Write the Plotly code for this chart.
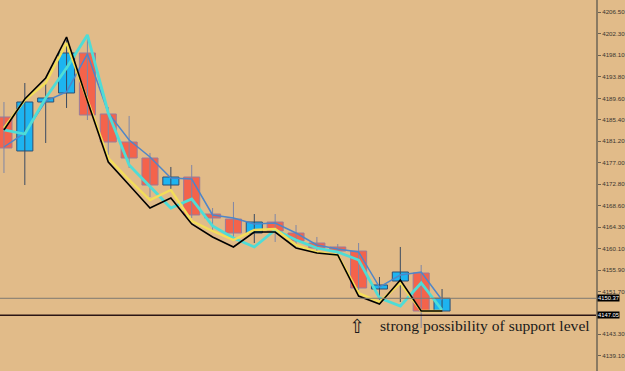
import plotly.graph_objects as go

# ---- data ----
idx = list(range(22))
opens  = [4185.95, 4179.28, 4188.89, 4190.66, 4198.51, 4186.54, 4181.04, 4177.90, 4172.60, 4174.17, 4166.91,
          4165.93, 4163.18, 4165.34, 4163.18, 4161.22, 4160.44, 4159.65, 4152.19, 4153.76, 4155.33, 4147.87]
highs  = [4188.89, 4192.62, 4192.62, 4201.06, 4202.05, 4187.91, 4186.15, 4178.89, 4176.14, 4176.53, 4168.09,
          4169.27, 4166.91, 4166.91, 4164.75, 4162.40, 4161.02, 4161.22, 4154.55, 4160.44, 4156.90, 4152.19]
lows   = [4174.96, 4172.60, 4180.85, 4187.72, 4185.36, 4178.49, 4175.94, 4170.25, 4171.62, 4166.13, 4163.38,
          4161.81, 4161.22, 4161.42, 4160.83, 4159.45, 4159.06, 4152.00, 4150.03, 4149.64, 4144.54, 4147.68]
closes = [4179.87, 4188.89, 4189.68, 4198.51, 4186.34, 4181.04, 4177.90, 4172.60, 4174.17, 4166.72, 4166.13,
          4163.18, 4165.34, 4163.58, 4161.61, 4160.24, 4159.65, 4152.39, 4152.98, 4155.53, 4147.87, 4150.37]

black_line  = [4183.40, 4189.48, 4193.61, 4201.65, 4189.09, 4177.12, 4172.60, 4168.09, 4170.05, 4164.95, 4162.40,
               4160.44, 4163.38, 4163.38, 4160.24, 4159.26, 4158.87, 4150.82, 4149.25, 4153.96, 4147.87, 4147.87]
yellow_line = [4183.79, 4189.29, 4192.62, 4200.47, 4189.29, 4177.90, 4173.59, 4169.66, 4171.62, 4165.54, 4163.58,
               4161.81, 4163.77, 4163.97, 4160.83, 4159.45, 4158.87, 4151.41, 4149.64, 4153.37, 4147.87, 4147.87]
cyan_line   = [4183.40, 4182.61, 4189.68, 4195.57, 4202.05, 4186.74, 4176.53, 4172.41, 4168.09, 4169.86, 4164.56,
               4162.20, 4160.44, 4163.77, 4161.81, 4160.24, 4159.45, 4157.88, 4150.43, 4148.86, 4153.37, 4148.07]
blue_line   = [4180.06, 4182.81, 4189.09, 4190.86, 4198.32, 4186.74, 4181.44, 4178.10, 4173.98, 4173.78, 4166.72,
               4166.13, 4164.95, 4165.15, 4163.18, 4160.83, 4160.04, 4159.45, 4152.58, 4154.94, 4155.53, 4150.03]

tick_vals = [4206.50, 4202.30, 4198.10, 4193.80, 4189.60, 4185.40, 4181.20, 4177.00, 4172.80, 4168.60,
             4164.30, 4160.10, 4155.90, 4151.70, 4143.30, 4139.10]
current_price = 4150.37
support_level = 4147.05
note_text = "strong possibility of support level"

BG = "#E1BB89"
UP_FILL, UP_LINE, UP_WICK = "#1DB4F0", "#2F4E72", "#3A4A60"
DN_FILL, DN_LINE, DN_WICK = "#F4634B", "#9A7C9C", "#7F86A6"

fig = go.Figure()

# wicks
for up, wc in ((True, UP_WICK), (False, DN_WICK)):
    wx, wy = [], []
    for i, o, h, l, c in zip(idx, opens, highs, lows, closes):
        if (c >= o) == up:
            wx += [i, i, None]
            wy += [l, h, None]
    fig.add_trace(go.Scatter(x=wx, y=wy, mode="lines", line=dict(color=wc, width=1),
                             showlegend=False, hoverinfo="skip"))

# bodies
for up, fc, lc in ((True, UP_FILL, UP_LINE), (False, DN_FILL, DN_LINE)):
    bx, bb, bh = [], [], []
    for i, o, c in zip(idx, opens, closes):
        if (c >= o) == up:
            bx.append(i)
            bb.append(min(o, c))
            bh.append(abs(c - o))
    fig.add_trace(go.Bar(x=bx, base=bb, y=bh, width=0.77,
                         marker=dict(color=fc, line=dict(color=lc, width=1)),
                         showlegend=False, hoverinfo="skip"))

fig.add_trace(go.Scatter(x=idx, y=blue_line, mode="lines",
                         line=dict(color="#4F86C8", width=1.5), showlegend=False))
fig.add_trace(go.Scatter(x=idx, y=cyan_line, mode="lines",
                         line=dict(color="#4FDCD6", width=2.8), showlegend=False))
fig.add_trace(go.Scatter(x=idx, y=yellow_line, mode="lines",
                         line=dict(color="#F3DE58", width=2.4), showlegend=False))
fig.add_trace(go.Scatter(x=idx, y=black_line, mode="lines",
                         line=dict(color="#000000", width=1.6), showlegend=False))

fig.add_shape(type="line", xref="paper", x0=0, x1=1, y0=current_price, y1=current_price,
              line=dict(color="#7E7A72", width=1))
fig.add_shape(type="line", xref="paper", x0=0, x1=1, y0=support_level, y1=support_level,
              line=dict(color="#2A1515", width=1.5))

for v in (current_price, support_level):
    fig.add_annotation(xref="paper", x=1.0, y=v, xanchor="left", yanchor="middle",
                       text=f"{v:.2f}", showarrow=False, bgcolor="#000000",
                       font=dict(family="Liberation Sans", size=5.8, color="#FFFFFF"),
                       borderpad=0, xshift=1)

fig.add_annotation(x=16.92, y=4144.9, text="⇧", showarrow=False, xanchor="center", yanchor="middle",
                   font=dict(family="DejaVu Sans", size=19, color="#1A1A1A"))
fig.add_annotation(x=17.93, y=4145.0, text=note_text, showarrow=False, xanchor="left", yanchor="middle",
                   font=dict(family="Liberation Serif", size=15.6, color="#1A1A1A"))

fig.update_layout(
    width=625, height=371,
    margin=dict(l=0, r=29, t=0, b=0),
    paper_bgcolor=BG, plot_bgcolor=BG,
    barmode="overlay",
    xaxis=dict(range=[-0.19, 28.38], visible=False, showgrid=False),
    yaxis=dict(range=[4136.10, 4208.91], side="right", showgrid=False, zeroline=False,
               tickvals=tick_vals, ticktext=[f"{t:.2f}" for t in tick_vals],
               ticks="outside", ticklen=3, tickcolor="#6E6250",
               showline=True, linecolor="#8A7A62", linewidth=2,
               tickfont=dict(family="Liberation Sans", size=6.2, color="#3A3530")),
)

fig.write_html("out.html")
